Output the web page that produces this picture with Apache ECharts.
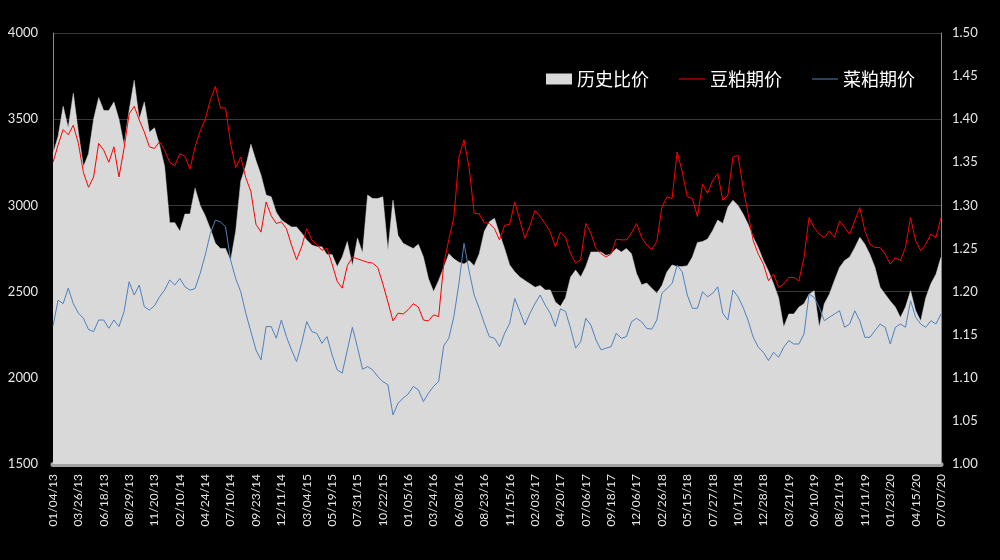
<!DOCTYPE html>
<html>
<head>
<meta charset="utf-8">
<script src="https://cdn.jsdelivr.net/npm/echarts@6/dist/echarts.min.js"></script>
<style>
html,body{margin:0;padding:0;background:#000;}
#chart{width:1000px;height:560px;}
</style>
</head>
<body>
<div id="chart"></div>
<script>
// Tick labels (one every 5 samples)
const tickLabels = ['01/04/13','03/26/13','06/18/13','08/29/13','11/20/13','02/10/14','04/24/14','07/10/14','09/23/14','12/11/14','03/04/15','05/19/15','07/31/15','10/22/15','01/05/16','03/24/16','06/08/16','08/23/16','11/15/16','02/03/17','04/20/17','07/06/17','09/18/17','12/06/17','02/26/18','05/15/18','07/27/18','10/17/18','12/28/18','03/21/19','06/10/19','08/21/19','11/11/19','01/23/20','04/15/20','07/07/20'];
const samplesPerTick = 5;

// 豆粕期价 (left axis)
const soyMeal = [3250,3350,3440,3410,3465,3360,3190,3105,3165,3360,3320,3250,3340,3165,3330,3530,3575,3495,3425,3340,
3330,3370,3320,3250,3230,3300,3285,3210,3340,3430,3500,3610,3690,3565,3565,3360,3220,3280,3160,3080,
2890,2845,3020,2940,2895,2905,2865,2770,2685,2760,2865,2800,2770,2740,2750,2660,2560,2520,2650,2700,
2690,2680,2670,2665,2640,2545,2440,2330,2375,2370,2395,2430,2410,2335,2330,2365,2355,2660,2800,2930,
3280,3380,3220,2955,2950,2900,2895,2865,2800,2885,2890,3020,2915,2810,2885,2970,2935,2895,2845,2760,
2845,2815,2720,2665,2685,2895,2840,2750,2720,2700,2720,2805,2800,2800,2840,2895,2815,2770,2745,2790,
2990,3050,3040,3310,3195,3050,3040,2935,3125,3070,3145,3185,3030,3060,3280,3290,3103,2949,2794,2717,
2659,2563,2602,2524,2544,2582,2582,2563,2698,2929,2872,2833,2814,2852,2814,2910,2872,2833,2910,2987,
2852,2775,2756,2756,2717,2659,2698,2679,2756,2929,2794,2737,2775,2833,2814,2929];

// 菜粕期价 (left axis)
const rapeMeal = [2300,2450,2430,2520,2430,2375,2345,2280,2268,2335,2335,2287,2335,2297,2384,2557,2480,2538,2412,2393,
2418,2470,2509,2567,2538,2576,2528,2508,2518,2605,2712,2837,2914,2905,2876,2683,2576,2499,2374,2268,
2162,2104,2297,2297,2230,2335,2239,2162,2094,2200,2326,2268,2258,2200,2239,2133,2046,2027,2160,2293,
2177,2050,2065,2046,2007,1978,1960,1785,1853,1882,1906,1950,1930,1862,1911,1950,1979,2186,2229,2355,
2547,2780,2620,2480,2403,2316,2238,2230,2181,2258,2316,2460,2384,2306,2374,2431,2480,2422,2374,2297,
2400,2385,2287,2172,2210,2345,2306,2220,2162,2172,2181,2258,2229,2239,2325,2345,2325,2287,2282,2335,
2490,2518,2547,2653,2615,2480,2403,2403,2499,2470,2490,2528,2374,2335,2509,2470,2409,2331,2235,2177,
2148,2100,2148,2119,2177,2216,2196,2196,2254,2486,2466,2409,2331,2351,2370,2389,2293,2312,2389,2331,
2235,2235,2274,2312,2293,2196,2293,2312,2293,2447,2351,2312,2293,2331,2312,2370];

// 历史比价 (right axis)
const ratio = [1.36,1.38,1.415,1.39,1.43,1.385,1.345,1.36,1.40,1.425,1.41,1.41,1.42,1.40,1.37,1.41,1.445,1.40,1.42,1.385,
1.39,1.37,1.345,1.28,1.28,1.27,1.29,1.29,1.32,1.30,1.288,1.273,1.256,1.25,1.25,1.236,1.27,1.328,1.346,1.371,
1.352,1.335,1.312,1.31,1.292,1.283,1.279,1.275,1.275,1.268,1.26,1.254,1.252,1.252,1.243,1.243,1.229,1.24,1.258,1.23,
1.262,1.245,1.312,1.308,1.308,1.31,1.248,1.306,1.265,1.256,1.253,1.25,1.255,1.24,1.215,1.20,1.213,1.228,1.244,1.238,
1.234,1.232,1.236,1.23,1.244,1.27,1.281,1.285,1.267,1.25,1.231,1.223,1.217,1.213,1.209,1.205,1.207,1.202,1.202,1.188,
1.183,1.193,1.217,1.225,1.217,1.229,1.246,1.246,1.246,1.242,1.244,1.25,1.246,1.25,1.244,1.221,1.208,1.21,1.204,1.198,
1.207,1.223,1.231,1.229,1.229,1.23,1.24,1.257,1.258,1.261,1.271,1.283,1.279,1.298,1.306,1.30,1.29,1.278,1.263,1.251,
1.236,1.224,1.209,1.193,1.159,1.174,1.174,1.182,1.186,1.197,1.201,1.159,1.186,1.197,1.213,1.228,1.236,1.24,1.251,1.263,
1.255,1.243,1.228,1.205,1.197,1.189,1.182,1.17,1.182,1.201,1.178,1.166,1.193,1.209,1.22,1.24];

const categories = soyMeal.map((_, i) => i % samplesPerTick === 0 ? tickLabels[i / samplesPerTick] : '·' + i);

// thin horizontal line legend icon (tiny corner dots keep the 26x11 box)
const lineIcon = 'path://M0,0L0.01,0L0.01,0.01L0,0.01Z M0,5L26,5L26,6L0,6Z M25.99,10.99L26,10.99L26,11L25.99,11Z';

const chart = echarts.init(document.getElementById('chart'), null, {renderer: 'canvas'});
const axisFont = 'Lato, "Noto Sans", sans-serif';
chart.setOption({
  animation: false,
  backgroundColor: '#000000',
  grid: {left: 53, right: 59, top: 33, bottom: 96},
  legend: {
    right: 80, top: 65,
    itemWidth: 26, itemHeight: 11, itemGap: 30,
    textStyle: {color: '#ffffff', fontSize: 18, fontFamily: '"Noto Sans CJK SC", sans-serif'},
    data: [
      {name: '历史比价', icon: 'rect'},
      {name: '豆粕期价', icon: lineIcon},
      {name: '菜粕期价', icon: lineIcon}
    ]
  },
  xAxis: {
    type: 'category',
    data: categories,
    boundaryGap: false,
    axisLine: {show: true, lineStyle: {color: '#a3a3a3', width: 5}},
    axisTick: {show: false},
    axisLabel: {
      interval: samplesPerTick - 1,
      rotate: 90,
      margin: 10,
      color: '#e6e6e6',
      fontSize: 12,
      fontFamily: axisFont,
      formatter: (v, i) => (i % samplesPerTick === 0 ? tickLabels[i / samplesPerTick] : '')
    },
    splitLine: {show: false}
  },
  yAxis: [{
    type: 'value', min: 1500, max: 4000, interval: 500,
    axisLine: {show: true, lineStyle: {color: '#8a8a8a', width: 1}},
    axisTick: {show: false},
    axisLabel: {color: '#e6e6e6', fontSize: 13, fontFamily: axisFont, margin: 15,
      formatter: v => String(v)},
    splitLine: {show: true, lineStyle: {color: '#3a3a3a', width: 1}}
  }, {
    type: 'value', min: 1.00, max: 1.50, interval: 0.05,
    position: 'right',
    axisLine: {show: true, lineStyle: {color: '#8a8a8a', width: 1}},
    axisTick: {show: false},
    axisLabel: {color: '#e6e6e6', fontSize: 13, fontFamily: axisFont, margin: 11,
      formatter: v => v.toFixed(2)},
    splitLine: {show: false}
  }],
  series: [{
    name: '历史比价', type: 'line', yAxisIndex: 1,
    data: ratio, symbol: 'none', z: 1,
    itemStyle: {color: '#d9d9d9'},
    lineStyle: {width: 0.5, color: '#d9d9d9'},
    areaStyle: {color: '#d9d9d9', opacity: 1, origin: 'start'}
  }, {
    name: '豆粕期价', type: 'line', yAxisIndex: 0,
    data: soyMeal, symbol: 'none', z: 3,
    itemStyle: {color: '#ff0000'},
    lineStyle: {width: 1, color: '#ff0000'}
  }, {
    name: '菜粕期价', type: 'line', yAxisIndex: 0,
    data: rapeMeal, symbol: 'none', z: 3,
    itemStyle: {color: '#4f81bd'},
    lineStyle: {width: 1, color: '#4f81bd'}
  }]
});
</script>
</body>
</html>
